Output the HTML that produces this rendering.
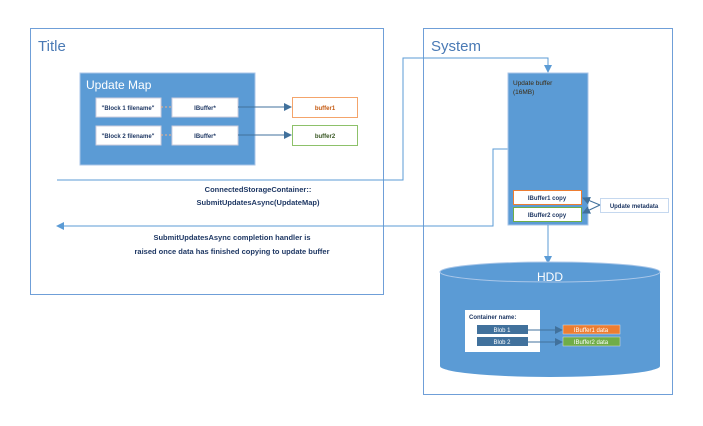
<!DOCTYPE html>
<html><head><style>body{margin:0;background:#fff}svg{display:block}text{font-family:"Liberation Sans",sans-serif}</style></head><body>
<svg width="703" height="426" viewBox="0 0 703 426" xmlns="http://www.w3.org/2000/svg">
<defs><marker id="a" markerWidth="8" markerHeight="8" refX="7" refY="4" orient="auto" markerUnits="userSpaceOnUse"><path d="M0,0L8,4L0,8z" fill="#41719c"/></marker>
<marker id="b" markerWidth="8" markerHeight="8" refX="7" refY="4" orient="auto" markerUnits="userSpaceOnUse"><path d="M0,0L8,4L0,8z" fill="#5b9bd5"/></marker></defs>
<rect x="30.5" y="28.5" width="353" height="266" fill="#fff" stroke="#6f9fd8"/>
<text x="38" y="51" font-size="15" fill="#4a7ab5">Title</text>
<rect x="423.5" y="28.5" width="249" height="366" fill="#fff" stroke="#6f9fd8"/>
<text x="431" y="51" font-size="15" fill="#4a7ab5">System</text>
<rect x="80" y="73" width="175" height="92" fill="#5b9bd5" stroke="#a9c6e8"/>
<text x="86" y="89" font-size="12" fill="#fff">Update Map</text>
<g font-size="6" font-weight="bold" fill="#1f3864" text-anchor="middle">
<rect x="96" y="98" width="65" height="19" fill="#fff" stroke="#ccd"/><text x="128" y="110">"Block 1 filename"</text>
<rect x="172" y="98" width="66" height="19" fill="#fff" stroke="#ccd"/><text x="205" y="110">IBuffer*</text>
<rect x="96" y="126" width="65" height="19" fill="#fff" stroke="#ccd"/><text x="128" y="138">"Block 2 filename"</text>
<rect x="172" y="126" width="66" height="19" fill="#fff" stroke="#ccd"/><text x="205" y="138">IBuffer*</text>
<line x1="161" y1="107" x2="172" y2="107" stroke="#f4b183" stroke-dasharray="2,2"/>
<line x1="161" y1="135" x2="172" y2="135" stroke="#f4b183" stroke-dasharray="2,2"/>
<line x1="238" y1="107" x2="291" y2="107" stroke="#41719c" marker-end="url(#a)"/>
<line x1="238" y1="135" x2="291" y2="135" stroke="#41719c" marker-end="url(#a)"/>
<rect x="292.5" y="97.5" width="65" height="20" fill="#fff" stroke="#f4a46b"/><text x="325" y="110" fill="#c55a11">buffer1</text>
<rect x="292.5" y="125.5" width="65" height="20" fill="#fff" stroke="#8dc16a"/><text x="325" y="138" fill="#385723">buffer2</text>
</g>
<polyline points="57,180 403,180 403,58 548,58 548,72" fill="none" stroke="#5b9bd5" marker-end="url(#b)"/>
<polyline points="508,149 493,149 493,226 57,226" fill="none" stroke="#5b9bd5" marker-end="url(#b)"/>
<g font-size="7.5" font-weight="bold" fill="#1f3864" text-anchor="middle">
<text x="258" y="192">ConnectedStorageContainer::</text>
<text x="258" y="205">SubmitUpdatesAsync(UpdateMap)</text>
<text x="232" y="240">SubmitUpdatesAsync completion handler is</text>
<text x="232" y="254">raised once data has finished copying to update buffer</text>
</g>
<rect x="508" y="73" width="80" height="152" fill="#5b9bd5" stroke="#a9c6e8"/>
<text x="513" y="85" font-size="6.5" fill="#3b2a10">Update buffer</text>
<text x="513" y="94" font-size="6.5" fill="#3b2a10">(16MB)</text>
<g font-size="6" font-weight="bold" text-anchor="middle">
<rect x="513.5" y="190.5" width="68" height="14" fill="#fff" stroke="#ed7d31"/><text x="547" y="200" fill="#1f3864">IBuffer1 copy</text>
<rect x="513.5" y="207.5" width="68" height="14" fill="#fff" stroke="#70ad47"/><text x="547" y="217" fill="#1f3864">IBuffer2 copy</text>
<rect x="600.5" y="198.5" width="68" height="14" fill="#fff" stroke="#c5d8ef"/><text x="634" y="208" fill="#1f3864">Update metadata</text>
</g>
<line x1="600" y1="205" x2="583" y2="198" stroke="#41719c" marker-end="url(#a)"/>
<line x1="600" y1="205" x2="583" y2="213" stroke="#41719c" marker-end="url(#a)"/>
<line x1="548" y1="225" x2="548" y2="263" stroke="#5b9bd5" marker-end="url(#b)"/>
<path d="M440,272 L440,366 A110,11 0 0 0 660,366 L660,272 Z" fill="#5b9bd5"/>
<ellipse cx="550" cy="272" rx="110" ry="10" fill="#5b9bd5" stroke="#a9c6e8"/>
<text x="550" y="281" font-size="12" fill="#fff" text-anchor="middle">HDD</text>
<rect x="465" y="310" width="75" height="42" fill="#fff"/>
<text x="469" y="319" font-size="6" font-weight="bold" fill="#1f3864">Container name:</text>
<g font-size="6" fill="#fff" text-anchor="middle">
<rect x="477" y="325" width="51" height="9" fill="#41719c"/><text x="502" y="332">Blob 1</text>
<rect x="477" y="337" width="51" height="9" fill="#41719c"/><text x="502" y="344">Blob 2</text>
<line x1="528" y1="330" x2="562" y2="330" stroke="#41719c" marker-end="url(#a)"/>
<line x1="528" y1="342" x2="562" y2="342" stroke="#41719c" marker-end="url(#a)"/>
<rect x="563" y="325" width="57" height="9" fill="#ed7d31" stroke="#ddd" stroke-width="0.5"/><text x="591" y="332">IBuffer1 data</text>
<rect x="563" y="337" width="57" height="9" fill="#70ad47" stroke="#ddd" stroke-width="0.5"/><text x="591" y="344">IBuffer2 data</text>
</g>
</svg>
</body></html>
